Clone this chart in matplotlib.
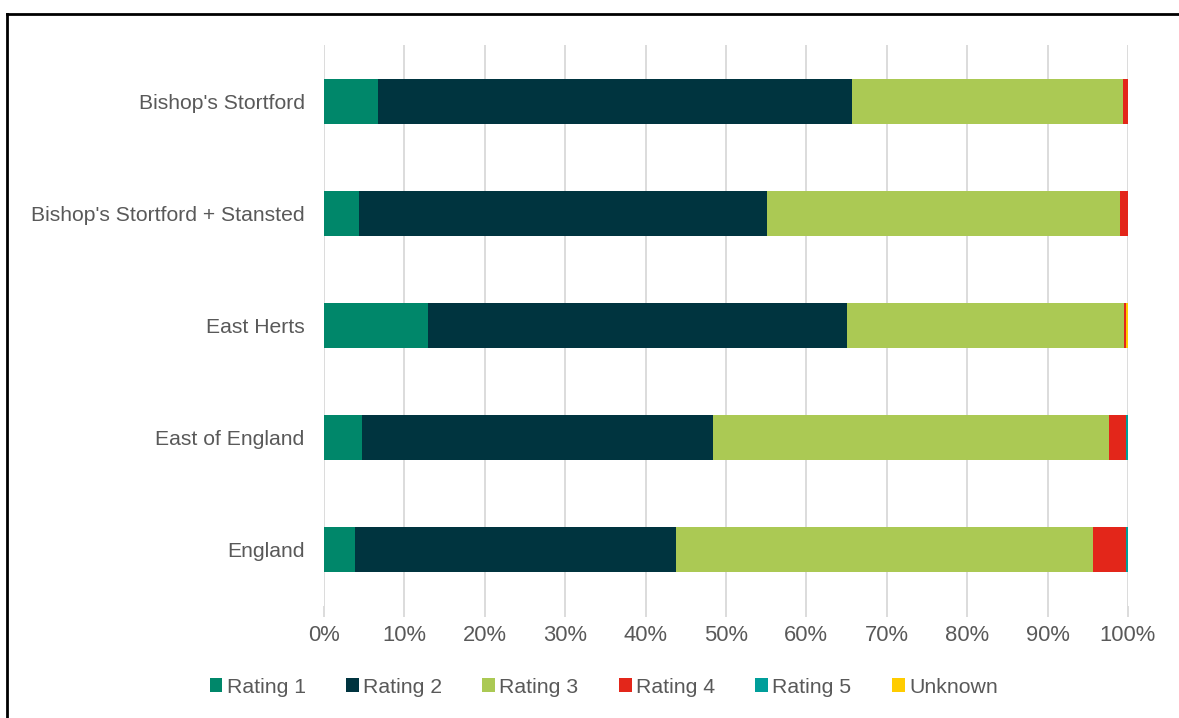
import matplotlib.pyplot as plt
import numpy as np
from matplotlib.lines import Line2D

plt.rcParams['font.family'] = ['Liberation Sans', 'DejaVu Sans']

areas = ["Bishop's Stortford", "Bishop's Stortford + Stansted", "East Herts",
         "East of England", "England"]
series = ["Rating 1", "Rating 2", "Rating 3", "Rating 4", "Rating 5", "Unknown"]
colors = ["#00876A", "#00343F", "#ABC954", "#E3261A", "#009E9A", "#FFCC00"]

# share of sites in each rating, percent
rating1 = [6.7, 4.4, 12.9, 4.7, 3.9]
rating2 = [59.0, 50.7, 52.1, 43.7, 39.9]
rating3 = [33.7, 43.9, 34.5, 49.2, 51.8]
rating4 = [0.6, 1.0, 0.3, 2.2, 4.1]
rating5 = [0.0, 0.0, 0.0, 0.2, 0.3]
unknown = [0.0, 0.0, 0.2, 0.0, 0.0]

values = [rating1, rating2, rating3, rating4, rating5, unknown]

fig = plt.figure(figsize=(11.79, 7.18), dpi=100)
ax = fig.add_axes([0.2748, 0.156, 0.6819, 0.7813])

y = np.arange(len(areas))[::-1]
left = np.zeros(len(areas))
tot = np.array([sum(v[i] for v in values) for i in range(len(areas))])
for name, vals, col in zip(series, values, colors):
    w = np.array(vals, dtype=float) / tot * 100
    ax.barh(y, w, left=left, height=0.4, color=col, label=name, zorder=3)
    left += w

ax.set_xlim(0, 100)
ax.set_ylim(-0.5, 4.5)
ax.set_xticks(np.arange(0, 101, 10))
ax.set_xticklabels([f"{t}%" for t in range(0, 101, 10)])
ax.set_yticks(y)
ax.set_yticklabels(areas)
ax.grid(axis='x', color='#D9D9D9', linewidth=1.3, zorder=0)
for s in ax.spines.values():
    s.set_visible(False)
ax.tick_params(axis='x', length=8, color='#D9D9D9', width=1.3, pad=6,
               labelsize=15.8, labelcolor='#595959')
ax.tick_params(axis='y', length=0, pad=14, labelsize=15.2, labelcolor='#595959')

leg = fig.legend(loc='center', bbox_to_anchor=(0.512, 0.043), ncol=6,
                 frameon=False, fontsize=15.3, handlelength=0.6, handleheight=0.6,
                 handletextpad=0.2, columnspacing=1.9, labelcolor='#595959')

# outer frame as in the source screenshot
fig.add_artist(Line2D([7.5 / 1179, 7.5 / 1179], [0, 1 - 14 / 718],
                      transform=fig.transFigure, color='black', linewidth=2))
fig.add_artist(Line2D([7.5 / 1179, 1], [1 - 14 / 718, 1 - 14 / 718],
                      transform=fig.transFigure, color='black', linewidth=2))

fig.savefig('out.png', dpi=100)
